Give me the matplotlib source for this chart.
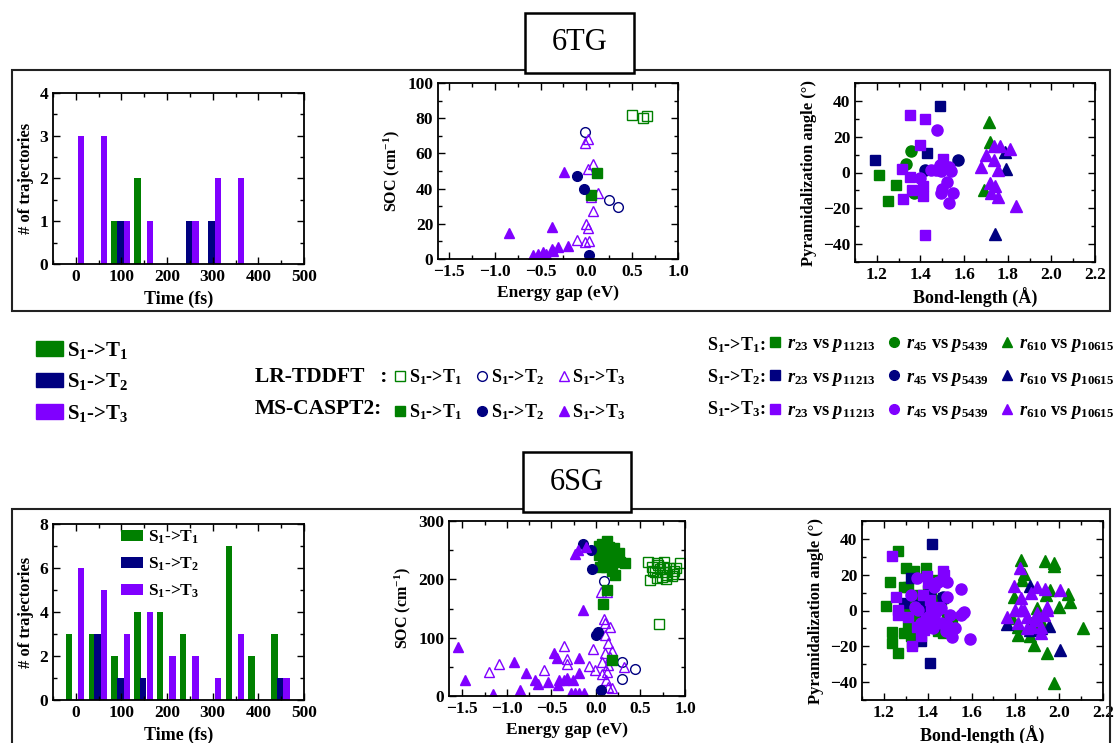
import matplotlib
matplotlib.use('Agg')
import matplotlib.pyplot as plt
from matplotlib.patches import Rectangle, Patch
from matplotlib.lines import Line2D
from matplotlib.ticker import MultipleLocator
import numpy as np

plt.rcParams['font.family'] = ['Liberation Serif', 'DejaVu Serif']
plt.rcParams['font.weight'] = 'bold'
plt.rcParams['axes.labelweight'] = 'bold'
plt.rcParams['mathtext.fontset'] = 'custom'
plt.rcParams['mathtext.rm'] = 'Liberation Serif:bold'
plt.rcParams['mathtext.it'] = 'Liberation Serif:italic:bold'
plt.rcParams['mathtext.bf'] = 'Liberation Serif:bold'

green = '#008000'
navy = '#000080'
purple = '#8000ff'

# histogram bins (fs)
bins = [0, 50, 100, 150, 200, 250, 300, 350, 400, 450]
tg_t1 = [0, 0, 1, 2, 0, 0, 0, 0, 0, 0]
tg_t2 = [0, 0, 1, 0, 0, 1, 1, 0, 0, 0]
tg_t3 = [3, 3, 1, 1, 0, 1, 2, 2, 0, 0]
sg_t1 = [3, 3, 2, 4, 4, 3, 0, 7, 2, 3]
sg_t2 = [0, 3, 1, 1, 0, 0, 0, 0, 0, 1]
sg_t3 = [6, 5, 3, 4, 2, 2, 1, 3, 0, 1]

# 6TG: SOC vs energy gap
tg_lr_t1_x = [0.50, 0.62, 0.66]
tg_lr_t1_y = [82, 80, 81]
tg_lr_t2_x = [-0.02, 0.25, 0.35]
tg_lr_t2_y = [72, 33.5, 29.5]
tg_lr_t3_x = [-0.01, 0.02, 0.07, 0.02, 0.13, 0.05, 0.07, 0.00, 0.02, -0.10, -0.02, 0.03]
tg_lr_t3_y = [66, 68, 54, 51, 37.5, 35, 27, 20, 17.5, 11, 9.5, 10]
tg_ms_t1_x = [0.12, 0.05]
tg_ms_t1_y = [49, 36.5]
tg_ms_t2_x = [-0.10, -0.03, 0.03]
tg_ms_t2_y = [47, 39.5, 2]
tg_ms_t3_x = [-0.84, -0.38, -0.24, -0.58, -0.53, -0.47, -0.44, -0.38, -0.36, -0.31, -0.20]
tg_ms_t3_y = [14.8, 18, 49.4, 2.3, 3, 3.8, 3, 5.9, 4.7, 6.6, 7.6]

# 6TG: pyramidalization vs bond length
tg_t1_sq_x = [1.21, 1.29, 1.25]
tg_t1_sq_y = [-1.5, -7, -16]
tg_t1_ci_x = [1.355, 1.335, 1.37]
tg_t1_ci_y = [12, 4.5, -11.3]
tg_t1_tr_x = [1.715, 1.72, 1.69]
tg_t1_tr_y = [28, 17, -10]
tg_t2_sq_x = [1.19, 1.49, 1.43]
tg_t2_sq_y = [7, 37, 11]
tg_t2_ci_x = [1.42, 1.57]
tg_t2_ci_y = [1.3, 7]
tg_t2_tr_x = [1.786, 1.79, 1.74]
tg_t2_tr_y = [11.5, 1.7, -34.6]
tg_t3_sq_x = [1.35, 1.42, 1.40, 1.505, 1.316, 1.35, 1.36, 1.41, 1.41, 1.32, 1.42]
tg_t3_sq_y = [32.4, 30, 15.6, 7.3, 1.9, -2.4, -10, -7.4, -13, -15, -35]
tg_t3_ci_x = [1.476, 1.396, 1.45, 1.49, 1.495, 1.53, 1.54, 1.52, 1.50, 1.495, 1.55, 1.53, 1.47]
tg_t3_ci_y = [23.6, -2.8, 1.3, 4, 0.7, 3, 1, -5.2, -9, -11.3, -11.3, -17.3, 1.3]
tg_t3_tr_x = [1.735, 1.766, 1.81, 1.70, 1.736, 1.676, 1.755, 1.718, 1.74, 1.725, 1.755, 1.84]
tg_t3_tr_y = [15, 14.7, 13.4, 9.7, 6.9, 3.2, 1.3, -5.8, -7.6, -11.7, -13.6, -18.8]

# 6SG: SOC vs energy gap
sg_lr_t1_x = [0.58, 0.61, 0.94, 0.71, 0.63, 0.66, 0.70, 0.74, 0.76, 0.78, 0.82,
              0.85, 0.88, 0.68, 0.72, 0.80, 0.64, 0.75, 0.86, 0.69, 0.79, 0.90]
sg_lr_t1_y = [230, 199, 228, 124, 221, 212, 225, 204, 230, 212, 220,
              205, 215, 203, 218, 208, 215, 222, 210, 228, 200, 220]
sg_lr_t2_x = [0.09, 0.29, 0.44, 0.29]
sg_lr_t2_y = [198, 59, 46, 28.6]
sg_lr_t3_x = [-1.20, -1.09, -0.58, -0.36, -0.32, -0.33, -0.03, -0.08, -0.01, 0.06, 0.12, 0.09, 0.10, 0.16,
              0.10, 0.14, 0.18, 0.10, 0.07, 0.16, 0.13, 0.12, 0.07, 0.11, 0.18, 0.32, 0.14]
sg_lr_t3_y = [42, 55, 45, 85, 64, 55, 81, 51, 44, 178, 178, 132, 125, 119,
              104, 91, 78, 73, 58, 67, 53, 41, 38, 27, 14, 50, 15]
sg_ms_t1_x = [0.03, 0.07, 0.12, 0.15, 0.20, 0.26, 0.07, 0.10, 0.16, 0.14, 0.24,
              0.33, 0.27, 0.11, 0.18, 0.21, 0.08, 0.12, 0.08, 0.18, 0.03, 0.05]
sg_ms_t1_y = [258, 261, 266, 255, 253, 245, 247, 241, 238, 230, 233,
              228, 230, 221, 215, 207, 230, 182, 158, 61, 241, 221]
sg_ms_t2_x = [-0.15, -0.05, -0.04, 0.00, 0.02, 0.06]
sg_ms_t2_y = [261, 251, 218, 104, 110, 11]
sg_ms_t3_x = [-1.55, -1.47, -1.16, -0.92, -0.85, -0.78, -0.68, -0.65, -0.54, -0.47, -0.44, -0.43, -0.41,
              -0.36, -0.32, -0.26, -0.19, -0.19, -0.24, -0.19, -0.13, -0.15, -0.23, -0.20, -0.11, -0.28]
sg_ms_t3_y = [84, 28, 4, 58, 10, 39, 27, 21, 24, 74, 66, 19, 27,
              27, 31, 27, 65, 40, 5, 5, 5, 148, 244, 250, 255, 5]

# 6SG: pyramidalization vs bond length
sg_t1_sq_x = [1.21, 1.23, 1.266, 1.236, 1.236, 1.264, 1.30, 1.336, 1.39, 1.29, 1.31, 1.29, 1.31, 1.325, 1.33,
              1.36, 1.385, 1.355, 1.43, 1.46, 1.445, 1.47, 1.49, 1.51, 1.41, 1.38, 1.33, 1.35, 1.40, 1.415]
sg_t1_sq_y = [2.6, 16, 33.5, -12, -18, -24, 24, 22, 23.6, 13, 13, -12.6, -9, -14.5, -18,
              -7, 2, 8.7, 17, 6, -11.7, -12.7, -5, -4.3, -3.4, -9, 4, -1.5, 11.5, 7.8]
sg_t1_ci_x = [1.31, 1.40, 1.46, 1.355]
sg_t1_ci_y = [0, -8, -11, -3.4]
sg_t1_tr_x = [1.824, 1.84, 1.83, 1.794, 1.786, 1.812, 1.812, 1.866, 1.885, 1.937, 1.976, 1.975,
              1.96, 1.94, 2.0, 2.04, 2.05, 2.11, 1.945, 1.976, 1.9, 1.92, 1.87]
sg_t1_tr_y = [28.3, 20.5, 16.8, 7.8, -4.3, -9, -13.6, -14.5, -19.2, 27.4, 26.4, 25,
              11.5, 8.7, 2.2, 9, 4.5, -9.9, -23.8, -40.6, 1.3, -7, -7]
sg_t2_sq_x = [1.42, 1.41, 1.325, 1.29, 1.37, 1.36, 1.47, 1.41]
sg_t2_sq_y = [37, -29.4, 18, 4, -17, 3, 7, 11.5]
sg_t2_ci_x = [1.47, 1.43, 1.37]
sg_t2_ci_y = [7.8, -9, 0.4]
sg_t2_tr_x = [1.764, 1.867, 1.867, 1.953, 2.006, 1.915]
sg_t2_tr_y = [-7.4, 13.8, -10.8, -8.6, -22, -9.9]
sg_t3_sq_x = [1.236, 1.256, 1.264, 1.264, 1.33, 1.31, 1.37, 1.385, 1.395, 1.40, 1.41, 1.415, 1.43,
              1.47, 1.475, 1.39, 1.35, 1.38, 1.445]
sg_t3_sq_y = [30.5, 7.8, 0.4, -2.4, -20, -3.4, -14.5, -10.8, 19.4, 15.3, 6, 0.4, -4.3,
              21.8, 20, -5.2, -9, 8.7, 2.2]
sg_t3_ci_x = [1.35, 1.325, 1.34, 1.43, 1.445, 1.49, 1.49, 1.46, 1.50, 1.55, 1.56, 1.567, 1.55,
              1.594, 1.51, 1.524, 1.49, 1.46, 1.415, 1.40, 1.37, 1.355, 1.423, 1.483, 1.438]
sg_t3_ci_y = [18, 8.7, 2.2, 13.4, 16.2, 16.2, 7.8, 1.3, -2.4, 12, -1.5, -0.6, -2.4,
              -16, -15, -9.5, -8, -7, -7, -3.4, -7, 0.4, -9.9, -11.7, -0.6]
sg_t3_tr_x = [1.794, 1.82, 1.824, 1.764, 1.80, 1.84, 1.855, 1.87, 1.90, 1.937, 1.945, 1.945,
              1.93, 1.89, 1.90, 1.877, 1.915, 1.915, 2.006, 1.855, 1.824, 1.81]
sg_t3_tr_y = [13.8, 23.6, 6.9, -3.4, 0.4, 0.4, -3.4, 10, 13.4, 12, 0.4, 2.2,
              -2.4, -5.2, -1.5, -9, -12.7, -9, 11.5, -9.9, 0.4, -7]

W, H = 1118, 743
fig = plt.figure(figsize=(W / 100, H / 100), dpi=100)


def px(l, t, r, b):
    return [l / W, 1 - b / H, (r - l) / W, (b - t) / H]


def style(ax, xmin, ymin):
    ax.xaxis.set_minor_locator(MultipleLocator(xmin))
    ax.yaxis.set_minor_locator(MultipleLocator(ymin))
    ax.tick_params(which='both', direction='in', top=True, right=True, labelsize=12.5)
    ax.tick_params(which='major', length=5, width=1)
    ax.tick_params(which='minor', length=3, width=1)
    for s in ax.spines.values():
        s.set_linewidth(1.3)


def hist(ax, t1, t2, t3, ymax, ystep):
    b = np.array(bins)
    ax.bar(b - 15, t1, width=14, color=green, label='S$_1$->T$_1$')
    ax.bar(b - 2.5, t2, width=14, color=navy, label='S$_1$->T$_2$')
    ax.bar(b + 12, t3, width=14, color=purple, label='S$_1$->T$_3$')
    ax.set_xlim(-50, 500)
    ax.set_ylim(0, ymax)
    ax.xaxis.set_major_locator(MultipleLocator(100))
    ax.yaxis.set_major_locator(MultipleLocator(ystep))
    style(ax, 50, ystep / 2)
    ax.set_xlabel('Time (fs)', fontsize=13)
    ax.set_ylabel('# of trajectories', fontsize=12)


def soc(ax, d, ymax, ystep, xmin):
    ms = 6.5
    ax.plot(d[0], d[1], 's', ms=ms, mfc='none', mec=green, mew=1)
    ax.plot(d[2], d[3], 'o', ms=ms + 0.5, mfc='none', mec=navy, mew=1)
    ax.plot(d[4], d[5], '^', ms=ms + 1, mfc='none', mec=purple, mew=1)
    ax.plot(d[6], d[7], 's', ms=ms, color=green)
    ax.plot(d[8], d[9], 'o', ms=ms + 0.5, color=navy)
    ax.plot(d[10], d[11], '^', ms=ms + 1, color=purple)
    ax.set_xlim(xmin, 1.0)
    ax.set_ylim(0, ymax)
    ax.xaxis.set_major_locator(MultipleLocator(0.5))
    ax.yaxis.set_major_locator(MultipleLocator(ystep))
    style(ax, 0.25, ystep / 2)
    ax.set_xlabel('Energy gap (eV)', fontsize=12.5)
    ax.set_ylabel('SOC (cm$^{-1}$)', fontsize=11.5)


def pyr(ax, d):
    cols = [green, navy, purple]
    for i, c in enumerate(cols):
        sx, sy, cx, cy, tx, ty = d[i]
        ax.plot(sx, sy, 's', ms=7, color=c)
        ax.plot(cx, cy, 'o', ms=8, color=c)
        ax.plot(tx, ty, '^', ms=8.5, color=c)
    ax.set_xlim(1.1, 2.2)
    ax.set_ylim(-50, 50)
    ax.xaxis.set_major_locator(MultipleLocator(0.2))
    ax.yaxis.set_major_locator(MultipleLocator(20))
    style(ax, 0.1, 10)
    ax.set_xlabel('Bond-length (Å)', fontsize=13)
    ax.set_ylabel('Pyramidalization angle (°)', fontsize=12)


# frames and title boxes
fig.patches.append(Rectangle((12 / W, 1 - 311 / H), 1098 / W, 241 / H, transform=fig.transFigure,
                             fill=False, lw=1.5, ec='#222222'))
fig.patches.append(Rectangle((12 / W, -0.05), 1098 / W, 0.05 + 1 - 509 / H, transform=fig.transFigure,
                             fill=False, lw=1.5, ec='#222222'))
for (l, t, r, b), name in [((525, 13, 634, 73), '6TG'), ((523, 452, 631, 512), '6SG')]:
    fig.patches.append(Rectangle((l / W, 1 - b / H), (r - l) / W, (b - t) / H, transform=fig.transFigure,
                                 fc='white', ec='black', lw=1.8, zorder=3))
    fig.text((l + r) / 2 / W, 1 - (t + b) / 2 / H, name, ha='center', va='center',
             fontsize=22, fontweight='normal', zorder=4)

ax1 = fig.add_axes(px(53, 93, 304, 264))
hist(ax1, tg_t1, tg_t2, tg_t3, 4, 1)
ax2 = fig.add_axes(px(438, 83, 678, 259))
soc(ax2, [tg_lr_t1_x, tg_lr_t1_y, tg_lr_t2_x, tg_lr_t2_y, tg_lr_t3_x, tg_lr_t3_y,
          tg_ms_t1_x, tg_ms_t1_y, tg_ms_t2_x, tg_ms_t2_y, tg_ms_t3_x, tg_ms_t3_y], 100, 20, -1.62)
ax3 = fig.add_axes(px(855, 83, 1095, 262))
pyr(ax3, [(tg_t1_sq_x, tg_t1_sq_y, tg_t1_ci_x, tg_t1_ci_y, tg_t1_tr_x, tg_t1_tr_y),
          (tg_t2_sq_x, tg_t2_sq_y, tg_t2_ci_x, tg_t2_ci_y, tg_t2_tr_x, tg_t2_tr_y),
          (tg_t3_sq_x, tg_t3_sq_y, tg_t3_ci_x, tg_t3_ci_y, tg_t3_tr_x, tg_t3_tr_y)])

ax4 = fig.add_axes(px(53, 524, 304, 700))
hist(ax4, sg_t1, sg_t2, sg_t3, 8, 2)
ax4.legend(loc='upper left', bbox_to_anchor=(0.272, 0.975), frameon=False, fontsize=12.5,
           handlelength=1.25, handleheight=0.6, labelspacing=0.55, handletextpad=0.3,
           borderpad=0, borderaxespad=0)
ax5 = fig.add_axes(px(449, 521, 685, 696))
soc(ax5, [sg_lr_t1_x, sg_lr_t1_y, sg_lr_t2_x, sg_lr_t2_y, sg_lr_t3_x, sg_lr_t3_y,
          sg_ms_t1_x, sg_ms_t1_y, sg_ms_t2_x, sg_ms_t2_y, sg_ms_t3_x, sg_ms_t3_y], 300, 100, -1.65)
ax6 = fig.add_axes(px(862, 521, 1103, 700))
pyr(ax6, [(sg_t1_sq_x, sg_t1_sq_y, sg_t1_ci_x, sg_t1_ci_y, sg_t1_tr_x, sg_t1_tr_y),
          (sg_t2_sq_x, sg_t2_sq_y, sg_t2_ci_x, sg_t2_ci_y, sg_t2_tr_x, sg_t2_tr_y),
          (sg_t3_sq_x, sg_t3_sq_y, sg_t3_ci_x, sg_t3_ci_y, sg_t3_tr_x, sg_t3_tr_y)])

# legends between the panels
trans = ['S$_1$->T$_1$', 'S$_1$->T$_2$', 'S$_1$->T$_3$']
cols = [green, navy, purple]
fig.legend(handles=[Patch(color=c, label=t) for c, t in zip(cols, trans)],
           loc='upper left', bbox_to_anchor=(36 / W, 1 - 340 / H), frameon=False, fontsize=15,
           handlelength=1.3, handleheight=0.7, labelspacing=0.5, handletextpad=0.2,
           borderpad=0, borderaxespad=0)

fig.text(255 / W, 1 - 377 / H, 'LR-TDDFT   :', va='center', fontsize=15.5)
fig.text(255 / W, 1 - 409 / H, 'MS-CASPT2:', va='center', fontsize=15.5)
mk = ['s', 'o', '^']
h = []
for m, c, t in zip(mk, cols, trans):
    h.append(Line2D([], [], ls='none', marker=m, ms=7, mfc='none', mec=c, mew=1, label=t))
    h.append(Line2D([], [], ls='none', marker=m, ms=7, color=c, label=t))
fig.legend(handles=h, ncol=3, loc='upper left', bbox_to_anchor=(395 / W, 1 - 367 / H), frameon=False,
           fontsize=13, handlelength=0.6, handletextpad=0.15, columnspacing=0.85, labelspacing=0.85,
           borderpad=0, borderaxespad=0)

rowlab = ['S$_1$->T$_1$:', 'S$_1$->T$_2$:', 'S$_1$->T$_3$:']
for i, t in enumerate(rowlab):
    fig.text(707 / W, 1 - (345 + 32 * i) / H, t, va='center', fontsize=13)
pairs = ['$r_{23}$ vs $p_{11213}$', '$r_{45}$ vs $p_{5439}$', '$r_{610}$ vs $p_{10615}$']
h = []
for m, p in zip(mk, pairs):
    for c in cols:
        h.append(Line2D([], [], ls='none', marker=m, ms=7, color=c, label=p))
fig.legend(handles=h, ncol=3, loc='upper left', bbox_to_anchor=(768 / W, 1 - 335 / H), frameon=False,
           fontsize=13.2, handlelength=0.8, handletextpad=0.25, columnspacing=0.6, labelspacing=0.8,
           borderpad=0, borderaxespad=0)

fig.savefig('out.png', dpi=100)
